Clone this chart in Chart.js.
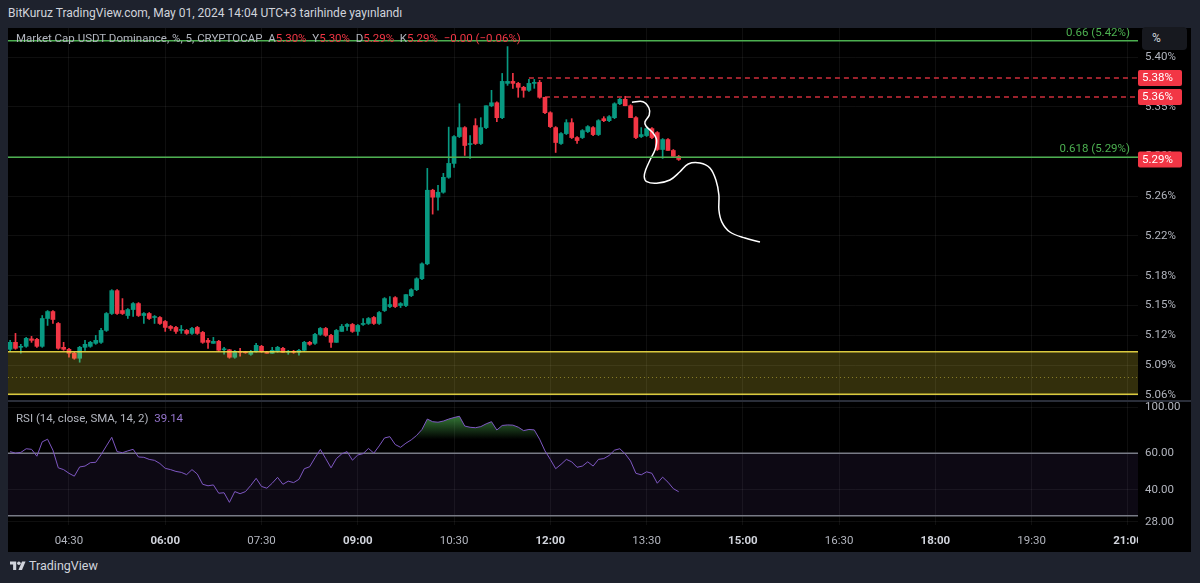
<!DOCTYPE html>
<html>
<head>
<meta charset="utf-8">
<script src="https://cdn.jsdelivr.net/npm/chart.js@4.4.1/dist/chart.umd.min.js"></script>
<style>
html,body{margin:0;padding:0;width:1200px;height:583px;overflow:hidden;background:#1e222d;font-family:Roboto,"Noto Sans",sans-serif}
#head{position:absolute;left:8px;top:6px;color:#d1d4dc;font-size:12px;white-space:pre}
#pane{position:absolute;left:8px;top:28px;width:1183px;height:524px;background:#000}
#cPrice{position:absolute;left:8px;top:28px}
#cRsi{position:absolute;left:8px;top:401px}
#sep{position:absolute;left:8px;top:400px;width:1183px;height:2px;background:#2a2e39}
#leg{position:absolute;left:16px;top:31px;font-size:11.5px;color:#b2b5be;white-space:pre}
#leg .r{color:#f23645}
#rsiLeg{position:absolute;left:16px;top:411px;font-size:11.5px;color:#b2b5be;white-space:pre}
#rsiLeg .v{color:#9575cd}
#pct{position:absolute;left:1142px;top:27px;width:45px;height:23px;background:#17191f;border-radius:4px;color:#d1d4dc;font-size:12px;line-height:23px;text-indent:10px}
#logo{position:absolute;left:10px;top:558px;color:#d1d4dc;font-size:12.5px}
#logo svg{vertical-align:-1px;margin-right:3px}
</style>
</head>
<body>
<div id="head">BitKuruz TradingView.com, May 01, 2024 14:04 UTC+3 tarihinde yayınlandı</div>
<div id="pane"></div>
<canvas id="cPrice" width="1183" height="373"></canvas>
<canvas id="cRsi" width="1183" height="151"></canvas>
<div id="sep"></div>
<div id="leg">Market Cap USDT Dominance, %, 5, CRYPTOCAP  A<span class="r">5.30%</span>  Y<span class="r">5.30%</span>  D<span class="r">5.29%</span>  K<span class="r">5.29%</span>  <span class="r">−0.00 (−0.06%)</span></div>
<div id="rsiLeg">RSI (14, close, SMA, 14, 2)  <span class="v">39.14</span></div>
<div id="pct">%</div>
<div id="logo"><svg width="16" height="11" viewBox="0 0 36 24"><path d="M14 22H7V10H0V3h14z" fill="#d1d4dc"/><circle cx="20" cy="7" r="4" fill="#d1d4dc"/><path d="M27 22h-8l8-19h8z" fill="#d1d4dc"/></svg>TradingView</div>
<script>
// zaman ayarlari (5 dakikalik mumlar)
var candleStart = '03:35'
var candleStep = 5

// mum verileri
var opens = [5.106,5.113,5.108,5.109,5.1165,5.116,5.109,5.137,5.144,5.132,
  5.108,5.106,5.102,5.097,5.108,5.109,5.112,5.113,5.125,5.142,
  5.165,5.145,5.140,5.146,5.152,5.140,5.142,5.138,5.138,5.134,
  5.129,5.128,5.125,5.125,5.122,5.128,5.123,5.115,5.112,5.114,
  5.1055,5.1055,5.098,5.1035,5.1035,5.101,5.1035,5.109,5.103,5.102,
  5.104,5.107,5.103,5.104,5.103,5.105,5.113,5.112,5.121,5.127,
  5.120,5.113,5.124,5.129,5.131,5.124,5.131,5.132,5.138,5.132,
  5.145,5.149,5.158,5.150,5.150,5.160,5.166,5.177,5.192,5.266,
  5.259,5.264,5.279,5.293,5.320,5.329,5.312,5.331,5.313,5.329,
  5.351,5.354,5.339,5.3735,5.3755,5.3735,5.3695,5.3665,5.3735,5.3745,
  5.3595,5.344,5.329,5.313,5.323,5.334,5.319,5.319,5.325,5.329,
  5.322,5.338,5.336,5.339,5.353,5.3575,5.351,5.339,5.320,5.321,
  5.328,5.324,5.307,5.317,5.306,5.300]
var highs = [5.115,5.122,5.111,5.118,5.119,5.117,5.140,5.145,5.145,5.133,
  5.113,5.107,5.103,5.109,5.115,5.114,5.120,5.127,5.143,5.166,
  5.166,5.157,5.147,5.153,5.153,5.143,5.143,5.140,5.139,5.135,
  5.130,5.129,5.130,5.126,5.128,5.129,5.124,5.117,5.118,5.115,
  5.108,5.106,5.105,5.107,5.104,5.105,5.112,5.110,5.104,5.108,
  5.109,5.108,5.105,5.105,5.106,5.114,5.114,5.122,5.128,5.128,
  5.121,5.126,5.131,5.132,5.132,5.131,5.137,5.138,5.139,5.144,
  5.158,5.159,5.159,5.153,5.161,5.167,5.178,5.193,5.288,5.267,
  5.271,5.283,5.3295,5.321,5.353,5.330,5.321,5.338,5.339,5.351,
  5.3665,5.355,5.3835,5.4105,5.3835,5.3745,5.3705,5.3775,5.3775,5.3765,
  5.3595,5.345,5.330,5.324,5.337,5.338,5.320,5.327,5.331,5.330,
  5.337,5.340,5.341,5.354,5.3585,5.3605,5.352,5.340,5.329,5.329,
  5.329,5.325,5.318,5.318,5.307,5.301]
var lows = [5.104,5.106,5.102,5.108,5.113,5.108,5.108,5.130,5.132,5.106,
  5.105,5.098,5.096,5.093,5.105,5.108,5.111,5.112,5.124,5.141,
  5.141,5.141,5.137,5.139,5.139,5.132,5.136,5.132,5.131,5.124,
  5.125,5.122,5.122,5.121,5.121,5.121,5.112,5.107,5.112,5.104,
  5.101,5.097,5.097,5.099,5.102,5.100,5.103,5.103,5.102,5.102,
  5.103,5.103,5.101,5.102,5.100,5.104,5.110,5.111,5.120,5.119,
  5.108,5.113,5.124,5.125,5.123,5.120,5.130,5.131,5.131,5.131,
  5.144,5.148,5.148,5.148,5.149,5.159,5.165,5.176,5.191,5.242,
  5.246,5.263,5.278,5.289,5.319,5.301,5.298,5.312,5.312,5.328,
  5.350,5.335,5.338,5.3715,5.3685,5.3595,5.3595,5.3655,5.3685,5.3585,
  5.343,5.329,5.304,5.312,5.322,5.318,5.313,5.318,5.324,5.321,
  5.321,5.335,5.335,5.338,5.352,5.351,5.339,5.318,5.319,5.320,
  5.318,5.306,5.298,5.306,5.299,5.296]
var closes = [5.113,5.107,5.109,5.117,5.115,5.109,5.137,5.144,5.136,5.107,
  5.106,5.102,5.097,5.108,5.111,5.113,5.115,5.125,5.142,5.165,
  5.142,5.142,5.146,5.152,5.140,5.142,5.137,5.139,5.132,5.128,
  5.127,5.124,5.126,5.122,5.127,5.122,5.113,5.113,5.114,5.105,
  5.1065,5.098,5.104,5.103,5.1025,5.104,5.110,5.1035,5.102,5.105,
  5.108,5.103,5.104,5.103,5.105,5.113,5.111,5.121,5.127,5.120,
  5.113,5.125,5.129,5.131,5.124,5.130,5.132,5.137,5.132,5.143,
  5.157,5.151,5.149,5.152,5.161,5.166,5.177,5.192,5.266,5.259,
  5.264,5.279,5.293,5.320,5.329,5.311,5.313,5.313,5.329,5.351,
  5.354,5.339,5.3755,5.3755,5.3735,5.3695,5.3665,5.3735,5.3745,5.3595,
  5.344,5.330,5.314,5.323,5.334,5.319,5.316,5.326,5.330,5.322,
  5.336,5.336,5.340,5.353,5.3575,5.351,5.339,5.319,5.322,5.328,
  5.319,5.307,5.317,5.306,5.300,5.297]

// RSI (14) degerleri
var rsiValues = [61,60,60.5,63,62.6,58,68,70,62,51,
  50,48,46.5,51.5,52,54,54.2,59,65,71.5,
  61,60.3,61.5,62.6,57.5,57.3,56,55.4,53.5,50.7,
  50,49,48.5,47.3,50,47.6,42.5,41.8,42.2,38.5,
  38.7,34.8,39.2,38.3,39.2,42,45.4,41.5,40.7,43,
  45.9,42.5,44,43.3,44.9,50.5,51.6,57,62.5,56.5,
  51,56.5,59.5,61,55.5,58.8,59.7,63.2,60,65,
  71,72,66,64,67,69.5,73,78,87.5,85,
  84.5,85.6,87.5,89,90.3,81,79.9,79.5,80.5,83,
  85,77.5,81.5,82,81.8,80,77,78,77.6,70,
  61.5,56,50.5,53,56,54.5,51.3,52,54.5,52,
  56,56.5,58.5,62,63,59.5,55,48,47.2,48.8,
  48,43,46,43.5,40.5,39.14]

// eksen etiketleri
var timeTickLabels = ['04:30','06:00','07:30','09:00','10:30','12:00','13:30','15:00','16:30','18:00','19:30','21:00']
var priceTicks = [5.06,5.09,5.12,5.15,5.18,5.22,5.26,5.30,5.35,5.40]
var rsiTicks = [100,60,40,28]
var rsiBands = [60,30]
var rsiOverbought = 70

// cizimler: destek bolgesi, fib seviyeleri, yatay cizgiler
var zoneTop = 5.1036
var zoneMid = 5.0784
var zoneBottom = 5.0607
var fibValues = [5.4163, 5.2991]
var fibTexts = ['0.66 (5.42%)', '0.618 (5.29%)']
var levelValues = [5.3789, 5.3598]
var levelStarts = ['11:40', '11:55']
var levelTexts = ['5.38%', '5.36%']
var lastPriceText = '5.29%'

// el cizimi egri (saat dakika, fiyat)
var drawTimes = [796.3,806.6,812.2,812.5,808.5,809.4,816.0,819.4,817.8,813.2,809.1,807.8,810.1,819.4,831.8,841.2,848.9,859.9,869.2,874.8,877.6,877.6,880.4,887.9,902.0,916.0]
var drawPrices = [5.3545,5.3551,5.3487,5.3417,5.3349,5.3306,5.3236,5.3165,5.3065,5.2964,5.2863,5.2796,5.2746,5.2730,5.2763,5.2846,5.2924,5.2934,5.2884,5.2763,5.2612,5.2461,5.2340,5.2240,5.2179,5.2139]

var upColor = '#089981'
var downColor = '#f23645'
var gridColor = 'rgba(255,255,255,0.06)'
var fibColor = '#4caf50'

function toMin(s){
    var p = s.split(':')
    return parseInt(p[0]) * 60 + parseInt(p[1])
}

var xMin = 213, xMax = 1269.4
var timeTickValues = timeTickLabels.map(toMin)
var candleTimes = opens.map(function(v, i){ return toMin(candleStart) + i * candleStep })
var candleColors = opens.map(function(v, i){ return closes[i] >= opens[i] ? upColor : downColor })

Chart.defaults.font.family = 'Roboto, "Noto Sans", sans-serif'

function timeLabel(v){
    var i = timeTickValues.indexOf(v)
    return i >= 0 ? timeTickLabels[i] : ''
}

//zera os paddings automaticos dos eixos
function noPad(s){
    s.paddingTop = 0
    s.paddingBottom = 0
    s.paddingLeft = 0
    s.paddingRight = 0
}

function boxLabel(ctx, x, y, text){
    ctx.fillStyle = downColor
    ctx.beginPath()
    ctx.roundRect(x, y - 8, 44, 16, 2)
    ctx.fill()
    ctx.fillStyle = '#ffffff'
    ctx.font = '11.5px Roboto'
    ctx.textAlign = 'left'
    ctx.textBaseline = 'middle'
    ctx.fillText(text, x + 4, y + 0.5)
}

function hLine(ctx, x1, x2, py, color, dash, width){
    ctx.save()
    ctx.strokeStyle = color
    ctx.lineWidth = width || 1
    ctx.setLineDash(dash || [])
    ctx.beginPath()
    ctx.moveTo(x1, py)
    ctx.lineTo(x2, py)
    ctx.stroke()
    ctx.restore()
}

var pricePlugin = {
    id: 'priceOverlay',
    afterDatasetsDraw: function(chart){
        var ctx = chart.ctx, a = chart.chartArea, x = chart.scales.x, y = chart.scales.y
        ctx.save()
        //bolge
        var yt = y.getPixelForValue(zoneTop), yb = y.getPixelForValue(zoneBottom), ym = y.getPixelForValue(zoneMid)
        ctx.fillStyle = 'rgba(255,235,59,0.2)'
        ctx.fillRect(a.left, yt, a.right - a.left, yb - yt)
        ctx.strokeStyle = 'rgba(240,222,70,0.9)'
        ctx.lineWidth = 1.5
        ctx.beginPath()
        ctx.moveTo(a.left, yt); ctx.lineTo(a.right, yt)
        ctx.moveTo(a.left, yb); ctx.lineTo(a.right, yb)
        ctx.stroke()
        ctx.restore()
        hLine(ctx, a.left, a.right, Math.round(ym) + 0.5, 'rgba(240,222,70,0.45)', [1, 3])

        //fib seviyeleri
        fibValues.forEach(function(v, i){
            var py = y.getPixelForValue(v)
            hLine(ctx, a.left, a.right, py, fibColor, [], 1.5)
            ctx.save()
            ctx.font = '11.5px Roboto'
            ctx.textAlign = 'right'
            ctx.textBaseline = 'bottom'
            ctx.fillStyle = fibColor
            ctx.fillText(fibTexts[i], a.right - 8, py - 2)
            ctx.restore()
        })

        //kesikli seviyeler
        levelValues.forEach(function(v, i){
            var py = y.getPixelForValue(v)
            hLine(ctx, x.getPixelForValue(toMin(levelStarts[i])), a.right, py, 'rgba(242,54,69,0.85)', [5, 4], 1.5)
        })
    },
    afterDraw: function(chart){
        var ctx = chart.ctx, a = chart.chartArea, y = chart.scales.y
        ctx.save()
        levelValues.forEach(function(v, i){
            boxLabel(ctx, a.right, y.getPixelForValue(v), levelTexts[i])
        })
        boxLabel(ctx, a.right, y.getPixelForValue(closes[closes.length - 1]), lastPriceText)
        ctx.restore()
    }
}

var rsiPlugin = {
    id: 'rsiOverlay',
    beforeDatasetsDraw: function(chart){
        var ctx = chart.ctx, a = chart.chartArea, y = chart.scales.y
        var y1 = y.getPixelForValue(rsiBands[0]), y2 = y.getPixelForValue(rsiBands[1])
        ctx.save()
        ctx.fillStyle = 'rgba(126,87,194,0.1)'
        ctx.fillRect(a.left, y1, a.right - a.left, y2 - y1)
        ctx.restore()
        hLine(ctx, a.left, a.right, y1, '#787b86', [], 1.5)
        hLine(ctx, a.left, a.right, y2, '#787b86', [], 1.5)
    },
    afterDraw: function(chart){
        //son etiketi kes (21:0)
        var ctx = chart.ctx, a = chart.chartArea
        ctx.save()
        ctx.fillStyle = '#000'
        ctx.fillRect(a.right, a.bottom + 4, chart.width - a.right, chart.height - a.bottom)
        ctx.restore()
    }
}

function xAxis(showTicks){
    return {
        type: 'linear', min: xMin, max: xMax, offset: false,
        grid: {color: gridColor, drawTicks: false, offset: false},
        border: {display: false},
        ticks: {
            display: showTicks, autoSkip: false, maxRotation: 0, padding: 9,
            color: function(c){ return c.tick && c.tick.value % 180 === 0 ? '#d1d4dc' : '#b2b5be' },
            font: function(c){ return {size: 11.5, weight: c.tick && c.tick.value % 180 === 0 ? 'bold' : 'normal'} },
            callback: timeLabel
        },
        afterBuildTicks: function(s){ s.ticks = timeTickValues.map(function(v){ return {value: v} }) },
        afterFit: function(s){ s.height = showTicks ? 27 : 0; noPad(s) }
    }
}

//grafico de precos
new Chart(document.getElementById('cPrice'), {
    type: 'bar',
    data: {
        datasets: [
            {
                type: 'line', label: 'cizim',
                data: drawTimes.map(function(t, i){ return {x: t, y: drawPrices[i]} }),
                borderColor: '#ffffff', borderWidth: 1.5, pointRadius: 0, tension: 0.35, order: 0
            },
            {
                label: 'govde',
                data: candleTimes.map(function(t, i){ return {x: t, y: [opens[i], closes[i]]} }),
                backgroundColor: candleColors, barThickness: 4, minBarLength: 1, grouped: false, order: 1
            },
            {
                label: 'fitil',
                data: candleTimes.map(function(t, i){ return {x: t, y: [lows[i], highs[i]]} }),
                backgroundColor: candleColors, barThickness: 1, grouped: false, order: 2
            }
        ]
    },
    options: {
        responsive: false, animation: false, events: [],
        layout: {padding: 0},
        plugins: {legend: {display: false}, tooltip: {enabled: false}},
        scales: {
            x: xAxis(false),
            y: {
                type: 'linear', position: 'right', min: 5.054, max: 5.4292,
                grid: {color: gridColor, drawTicks: false},
                border: {display: false},
                ticks: {color: '#b2b5be', padding: 7, font: {size: 11.5}, callback: function(v){ return v.toFixed(2) + '%' }},
                afterBuildTicks: function(s){ s.ticks = priceTicks.map(function(v){ return {value: v} }) },
                afterFit: function(s){ s.width = 53; noPad(s) }
            }
        }
    },
    plugins: [pricePlugin]
})

//grafico RSI
new Chart(document.getElementById('cRsi'), {
    type: 'line',
    data: {
        datasets: [{
            label: 'RSI',
            data: rsiValues.map(function(v, i){ return {x: candleTimes[i], y: v} }),
            borderColor: '#7e57c2', borderWidth: 1, pointRadius: 0, tension: 0,
            fill: {target: {value: rsiOverbought}, below: 'rgba(0,0,0,0)'},
            backgroundColor: function(c){
                var ch = c.chart, s = ch.scales.y
                if(!ch.chartArea || !s) return 'rgba(0,0,0,0)'
                var g = ch.ctx.createLinearGradient(0, s.getPixelForValue(100), 0, s.getPixelForValue(rsiOverbought))
                g.addColorStop(0, 'rgba(76,175,80,0.95)')
                g.addColorStop(1, 'rgba(76,175,80,0)')
                return g
            }
        }]
    },
    options: {
        responsive: false, animation: false, events: [],
        layout: {padding: {top: 1}},
        plugins: {legend: {display: false}, tooltip: {enabled: false}},
        scales: {
            x: xAxis(true),
            y: {
                type: 'logarithmic', position: 'right', min: 27.08, max: 105.7,
                grid: {color: gridColor, drawTicks: false},
                border: {display: false},
                ticks: {color: '#b2b5be', padding: 7, font: {size: 11.5}, callback: function(v){ return Number(v).toFixed(2) }},
                afterBuildTicks: function(s){ s.ticks = rsiTicks.map(function(v){ return {value: v} }) },
                afterFit: function(s){ s.width = 53; noPad(s) }
            }
        }
    },
    plugins: [rsiPlugin]
})
</script>
</body>
</html>
